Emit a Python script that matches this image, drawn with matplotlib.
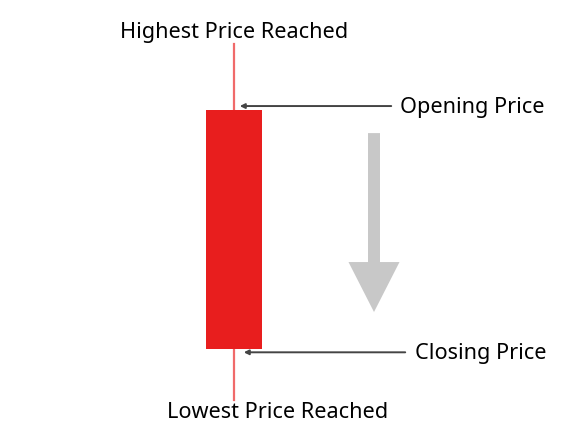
import matplotlib.pyplot as plt
from matplotlib.patches import FancyArrow, Rectangle

# candle values (price units)
high_price = 100.0
open_price = 81.5
close_price = 14.3
low_price = 0.0

labels = {
    'high': 'Highest Price Reached',
    'open': 'Opening Price',
    'close': 'Closing Price',
    'low': 'Lowest Price Reached',
}

candle_x = 234
candle_w = 56

fig = plt.figure(figsize=(5.75, 4.37), dpi=100)
ax = fig.add_axes((0, 0, 1, 1))
ax.set_xlim(0, 575)
ax.set_ylim(-10.4, 112.4)
ax.axis('off')

font = dict(family=['Noto Sans', 'DejaVu Sans'], fontsize=15.6, color='black', weight='medium')

# wick
ax.plot([candle_x, candle_x], [low_price, high_price], color='#f06a6a', lw=1.6, zorder=1)
# body
ax.add_patch(Rectangle((candle_x - candle_w / 2 - 0.5, close_price), candle_w, open_price - close_price,
                       facecolor='#e81e1e', edgecolor='none', zorder=2))

ax.text(candle_x, high_price + 0.3, labels['high'], ha='center', va='bottom', **font)
ax.text(278, low_price - 0.6, labels['low'], ha='center', va='top', **font)

ax.annotate('', xy=(237, open_price + 1.1), xytext=(394, open_price + 1.1),
            arrowprops=dict(arrowstyle='-|>', color='#444444', lw=1.4, mutation_scale=7))
ax.text(400, open_price + 0.8, labels['open'], ha='left', va='center', **font)

ax.annotate('', xy=(241, close_price - 0.9), xytext=(408, close_price - 0.9),
            arrowprops=dict(arrowstyle='-|>', color='#444444', lw=1.4, mutation_scale=7))
ax.text(415, close_price - 1.2, labels['close'], ha='left', va='center', **font)

# big gray trend arrow (falling)
arrow_top = (400 - 133) / 3.56
arrow_tip = (400 - 312) / 3.56
ax.add_patch(FancyArrow(374, arrow_top, 0, arrow_tip - arrow_top, width=12, head_width=51,
                        head_length=50 / 3.56, length_includes_head=True,
                        color='#c8c8c8', ec='none'))

fig.savefig('out.png', dpi=100)
plt.close(fig)
